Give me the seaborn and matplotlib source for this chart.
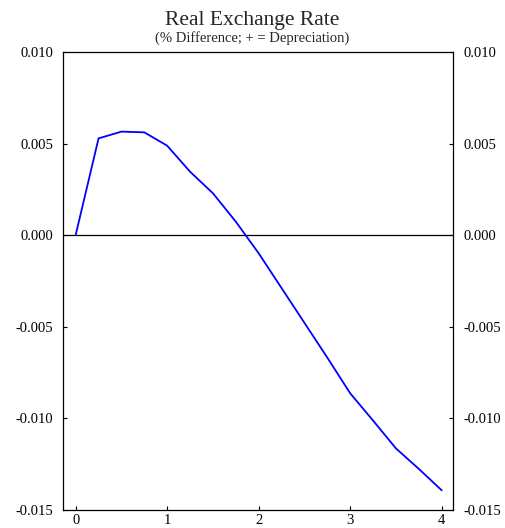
import matplotlib
matplotlib.use("Agg")
import matplotlib.pyplot as plt
import seaborn as sns
import pandas as pd

# Quarterly horizon (years) and real exchange rate response
years = [0.0, 0.25, 0.5, 0.75, 1.0, 1.25, 1.5, 1.75, 2.0,
         2.25, 2.5, 2.75, 3.0, 3.25, 3.5, 3.75, 4.0]
rer_diff = [0.0, 0.00528, 0.00565, 0.00561, 0.00488, 0.00346, 0.00228, 0.00073, -0.00100,
            -0.0029, -0.0048, -0.0067, -0.00865, -0.01014, -0.01166, -0.01278, -0.01395]
x_ticks = [0, 1, 2, 3, 4]
y_ticks = [-0.015, -0.010, -0.005, 0.000, 0.005, 0.010]
y_tick_labels = ["-0.015", "-0.010", "-0.005", "0.000", "0.005", "0.010"]

sns.set_style("white")
plt.rcParams["font.family"] = ["Liberation Serif", "DejaVu Serif"]

df = pd.DataFrame({"year": years, "rer": rer_diff})

fig = plt.figure(figsize=(5.05, 5.28), dpi=100)
ax = fig.add_axes([0.1254, 0.035, 0.771, 0.8665])

ax.axhline(0.0, color="black", linewidth=0.9, zorder=1)
sns.lineplot(data=df, x="year", y="rer", ax=ax, color="#0000ff", linewidth=1.3, zorder=2)

ax.set_xlim(-0.135, 4.12)
ax.set_ylim(-0.015, 0.010)
ax.set_xticks(x_ticks)
ax.set_xticklabels([str(t) for t in x_ticks])
ax.set_yticks(y_ticks)
ax.set_yticklabels(y_tick_labels)
ax.set_xlabel("")
ax.set_ylabel("")

for side in ["left", "right", "top", "bottom"]:
    ax.spines[side].set_visible(True)
    ax.spines[side].set_color("black")
    ax.spines[side].set_linewidth(0.9)

ax.tick_params(axis="both", direction="in", length=3, width=0.8, labelsize=10.5,
               colors="black")
ax.tick_params(axis="y", left=True, right=True, labelleft=True, labelright=True, pad=7.5)
ax.tick_params(axis="x", bottom=True, top=False, pad=3)

fig.text(0.5, 0.953, "Real Exchange Rate", ha="center", va="baseline", fontsize=15.5)
fig.text(0.5, 0.921, "(% Difference; + = Depreciation)", ha="center", va="baseline", fontsize=10.5)

fig.savefig("out.png", dpi=100)
